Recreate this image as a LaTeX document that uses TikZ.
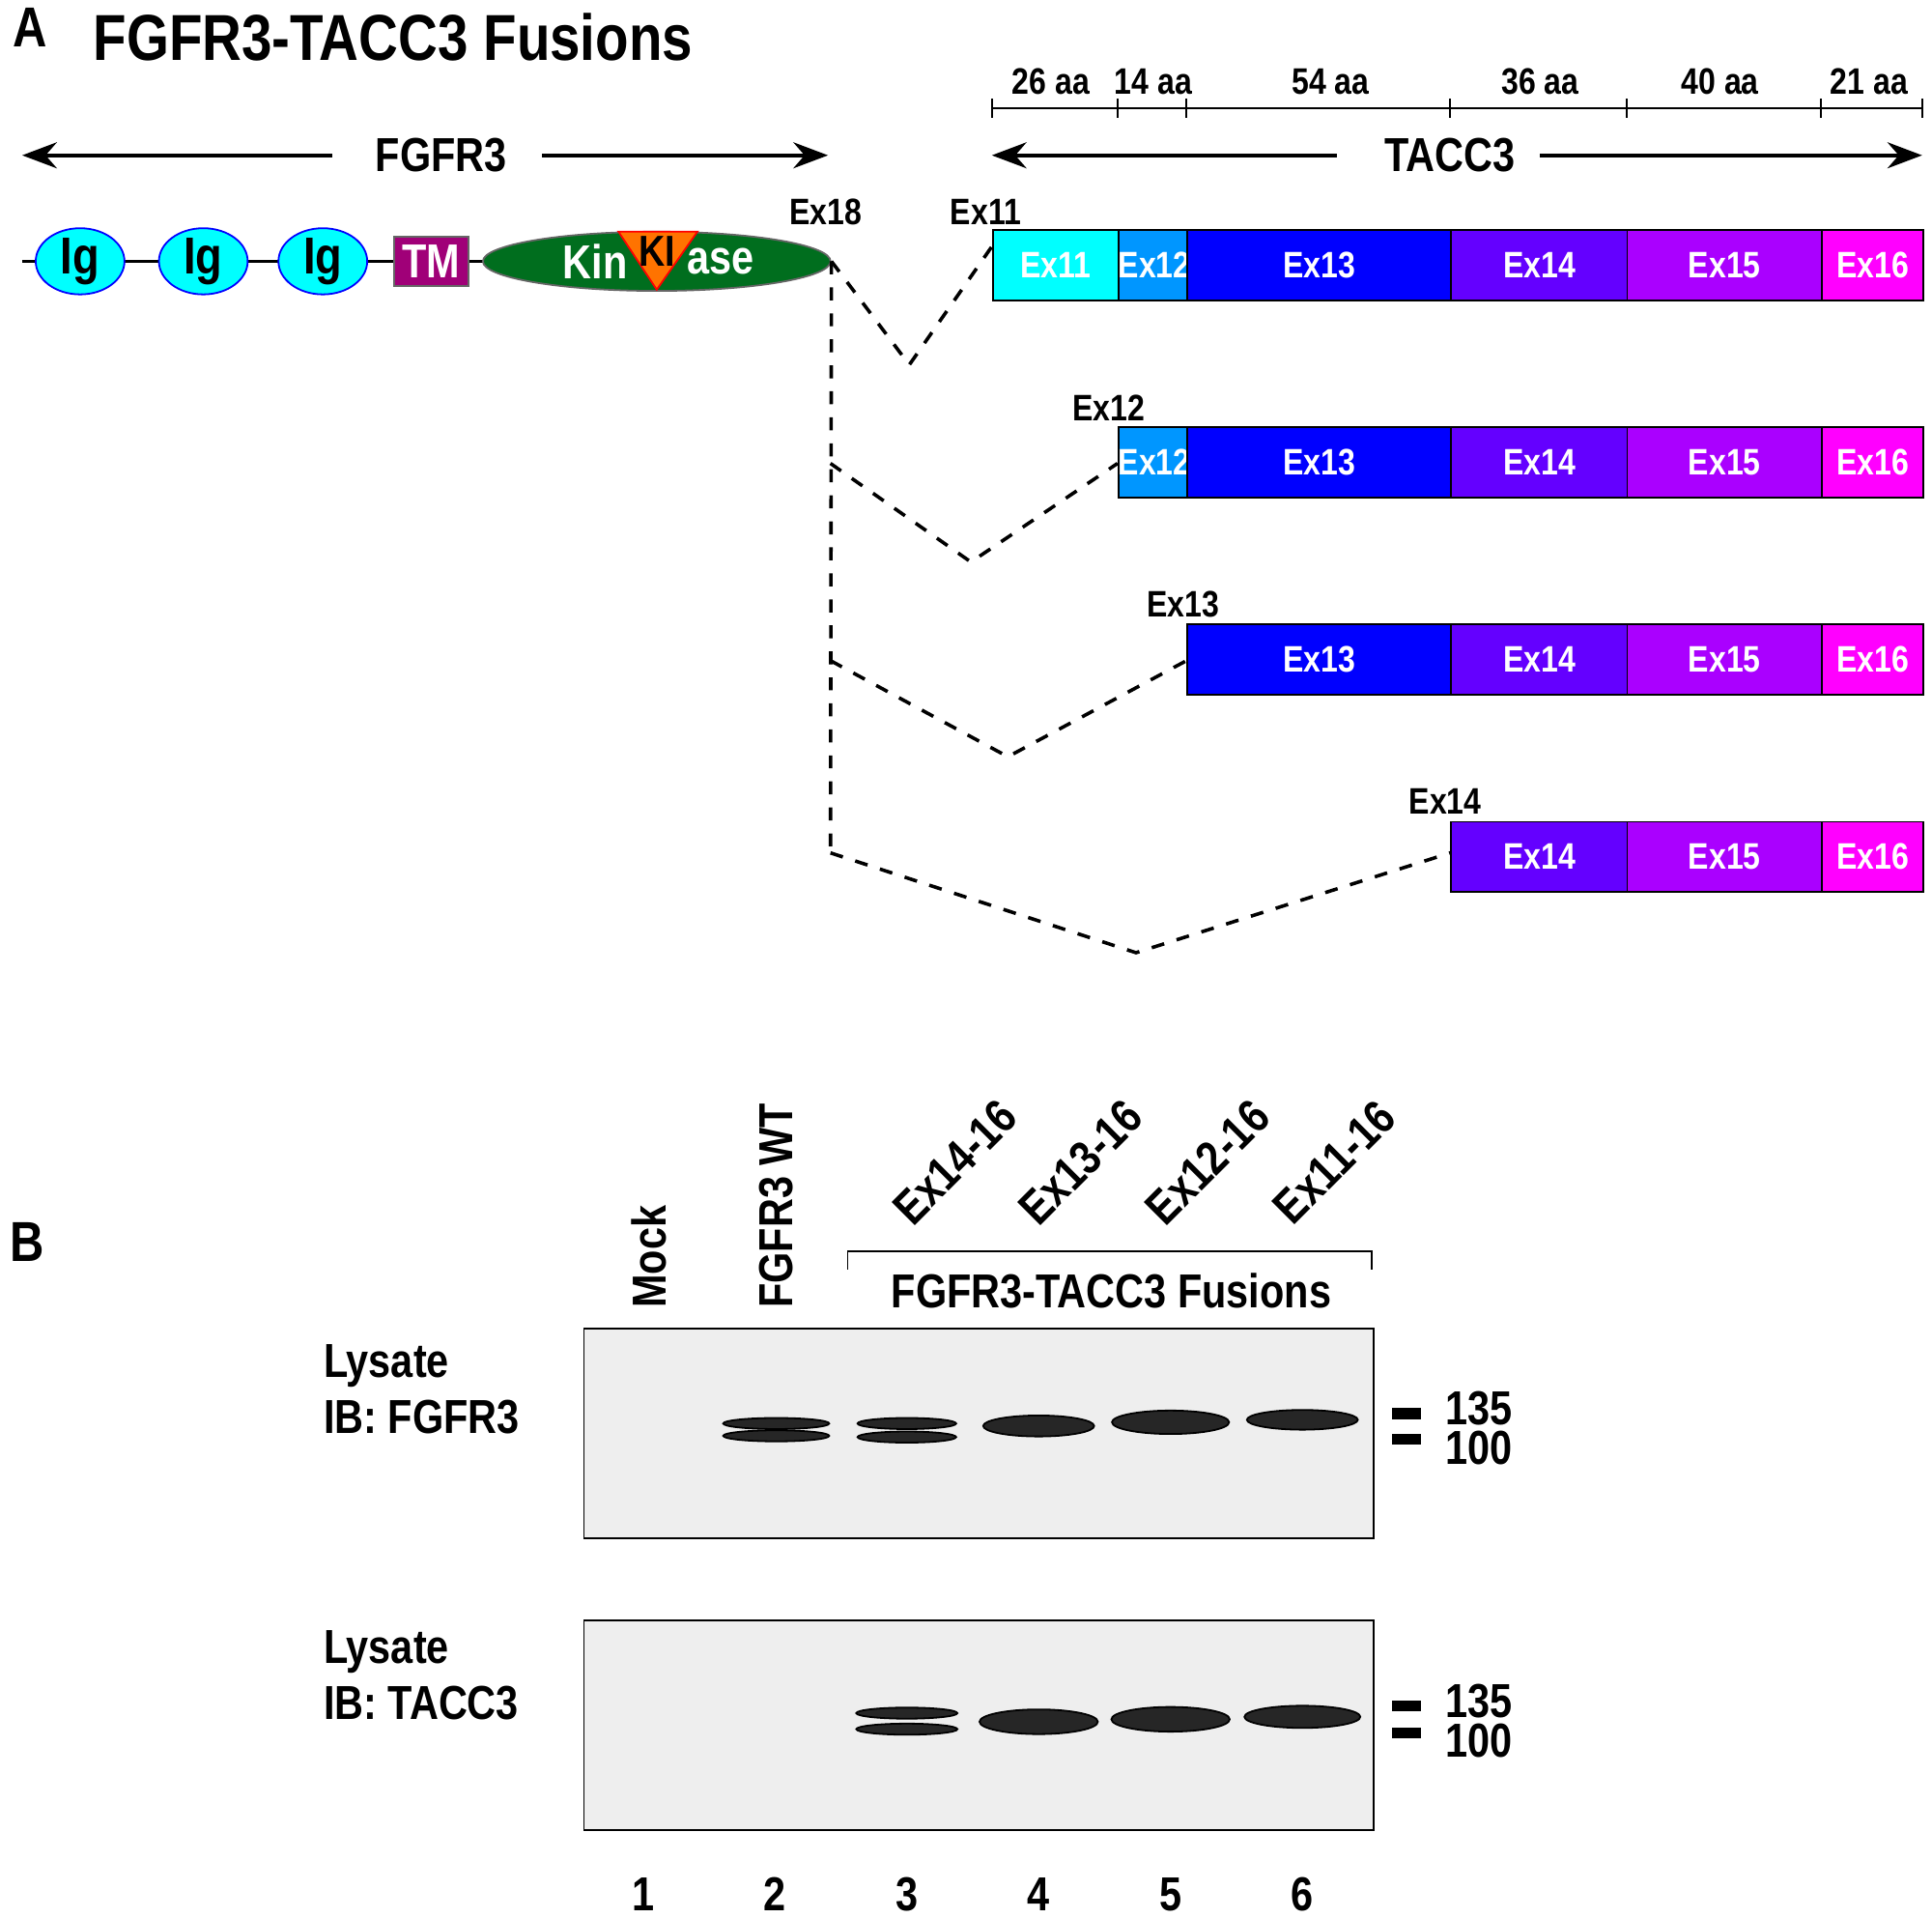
\documentclass[tikz,border=0pt]{standalone}
\usepackage{fontspec}
\setmainfont[FakeStretch=0.84]{Liberation Sans}
\usetikzlibrary{arrows.meta,positioning,shapes.geometric}
\definecolor{exA}{RGB}{0,255,255}
\definecolor{exB}{RGB}{0,150,255}
\definecolor{exC}{RGB}{0,0,255}
\definecolor{exD}{RGB}{100,0,255}
\definecolor{exE}{RGB}{170,0,255}
\definecolor{exF}{RGB}{255,0,255}
\definecolor{kin}{RGB}{0,110,30}
\definecolor{tmc}{RGB}{160,0,120}
\definecolor{blot}{RGB}{238,238,238}
\tikzset{
  txt/.style = {font=\fontsize{11}{13}\selectfont\bfseries, inner sep=0pt},
  big/.style = {font=\fontsize{13}{15}\selectfont\bfseries, inner sep=0pt},
  small/.style = {font=\fontsize{8.5}{10}\selectfont\bfseries, inner sep=0pt},
  ig/.style = {ellipse, draw=blue, fill=exA, minimum width=0.72cm,
    minimum height=0.48cm, inner sep=0pt, font=\fontsize{12}{14}\selectfont\bfseries},
  exon/.style = {draw=black, anchor=north west, minimum height=0.57cm, inner sep=0pt,
    text=white, font=\fontsize{8.5}{10}\selectfont\bfseries},
  fus/.style = {dashed, thick},
  band/.style = {fill=black!85, draw=black, ellipse, inner sep=0pt, minimum height=0.09cm},
  longarrow/.style = {{Stealth[length=8pt,width=6pt]}-{Stealth[length=8pt,width=6pt]}, thick}
}
\begin{document}
\begin{tikzpicture}[x=0.01cm,y=-0.01cm]
\useasboundingbox (0,0) rectangle (1568,1556);
% panel A
\node[big,anchor=west] (la) at (10,22) {A};
\node[big,anchor=west,font=\fontsize{15}{18}\selectfont\bfseries] (title) at (75,30) {FGFR3-TACC3 Fusions};
\coordinate (fl) at (18,126);
\coordinate (fr) at (672,126);
\draw[longarrow] (fl) -- (fr);
\fill[white] (270,110) rectangle (440,142);
\node[txt] (fgfr) at (358,126) {FGFR3};
\draw[thick] (18,212) -- (395,212);
\foreach \x [count=\i] in {65,165,262} \node[ig] (ig\i) at (\x,212) {Ig};
\node[draw=black!60, fill=tmc, minimum width=0.6cm, minimum height=0.4cm, inner sep=0pt,
  text=white, font=\fontsize{11}{13}\selectfont\bfseries] (tm) at (350,212) {TM};
\node[ellipse, draw=black!60, fill=kin, minimum width=2.82cm, minimum height=0.48cm, inner sep=0pt] (kin) at (533,212) {};
\node[txt,text=white] at (483,212) {Kin};
\node[txt,text=white] at (585,212) {ase};
\draw[red, fill=orange!90!red] (502,188) -- (566,188) -- (533,235) -- cycle;
\node[small,font=\fontsize{10}{12}\selectfont\bfseries] (ki) at (533,204) {KI};
\node[small] (e18) at (670,172) {Ex18};
% TACC3 scale
\draw (805,88) -- (1560,88);
\foreach \x in {805,907,963,1177,1320,1478,1560} \draw (\x,80) -- (\x,96);
\foreach \x/\t in {853/26 aa,936/14 aa,1080/54 aa,1250/36 aa,1396/40 aa,1517/21 aa}
  \node[small] at (\x,66) {\t};
\coordinate (tl) at (805,126);
\coordinate (tr) at (1560,126);
\draw[longarrow] (tl) -- (tr);
\fill[white] (1085,110) rectangle (1250,142);
\node[txt] (tacc) at (1177,126) {TACC3};
% exon rows
\foreach \y/\s in {186/1,346/2,506/3,666/4}{
  \ifnum\s<2 \node[exon,fill=exA,minimum width=1.02cm] at (805,\y) {Ex11};\fi
  \ifnum\s<3 \node[exon,fill=exB,minimum width=0.56cm] at (907,\y) {Ex12};\fi
  \ifnum\s<4 \node[exon,fill=exC,minimum width=2.14cm] at (963,\y) {Ex13};\fi
  \node[exon,fill=exD,minimum width=1.43cm] at (1177,\y) {Ex14};
  \node[exon,fill=exE,minimum width=1.58cm] at (1320,\y) {Ex15};
  \node[exon,fill=exF,minimum width=0.82cm] at (1478,\y) {Ex16};
}
\node[small] (e11) at (800,172) {Ex11};
\node[small] (e12) at (900,331) {Ex12};
\node[small] (e13) at (960,490) {Ex13};
\node[small] (e14) at (1173,650) {Ex14};
\coordinate (j0) at (kin.east);
\draw[fus] (j0) -- (674,692);
\draw[fus] (j0) -- (738,296) -- (805,200);
\draw[fus] (674,376) -- (788,456) -- (907,376);
\draw[fus] (674,536) -- (818,614) -- (963,536);
\draw[fus] (674,692) -- (922,773) -- (1177,692);
% panel B
\node[big] (lb) at (22,1008) {B};
\node[txt,rotate=90,anchor=west] (mock) at (527,1062) {Mock};
\node[txt,rotate=90,anchor=west] (wt) at (630,1062) {FGFR3 WT};
\foreach \x/\t in {775/Ex14-16,877/Ex13-16,980/Ex12-16,1083/Ex11-16}
  \node[txt,rotate=45] at (\x,943) {\t};
\draw (688,1030) -- (688,1015) -- (1113,1015) -- (1113,1030);
\node[txt] (fuslab) at (902,1047) {FGFR3-TACC3 Fusions};
% blots
\foreach \t/\a/\b in {1078/FGFR3/1108,1315/TACC3/1340}{
  \draw[fill=blot] (474,\t) rectangle (1115,\t+170);
  \node[txt,anchor=west] at (262,\b) {Lysate};
  \node[txt,anchor=west] at (262,\b+42) {IB: \a};
}
\foreach \y in {1147,1168,1384,1406} \draw[line width=2.5pt] (1130,\y) -- (1153,\y);
\foreach \y/\t in {1143/135,1175/100,1380/135,1412/100} \node[txt] at (1200,\y) {\t};
\foreach \x/\y/\w in {630/1155/0.86,630/1165/0.86,736/1155/0.8,736/1166/0.8}
  \node[band,minimum width=\w cm] at (\x,\y) {};
\node[band,minimum width=0.9cm,minimum height=0.17cm] at (843,1157) {};
\node[band,minimum width=0.95cm,minimum height=0.19cm] at (950,1154) {};
\node[band,minimum width=0.9cm,minimum height=0.16cm] at (1057,1152) {};
\node[band,minimum width=0.82cm] at (736,1390) {};
\node[band,minimum width=0.82cm] at (736,1403) {};
\node[band,minimum width=0.96cm,minimum height=0.2cm] at (843,1397) {};
\node[band,minimum width=0.96cm,minimum height=0.2cm] at (950,1395) {};
\node[band,minimum width=0.94cm,minimum height=0.18cm] at (1057,1393) {};
\foreach \x [count=\i] in {522,629,736,843,950,1057} \node[txt] at (\x,1537) {\i};
\end{tikzpicture}
\end{document}
